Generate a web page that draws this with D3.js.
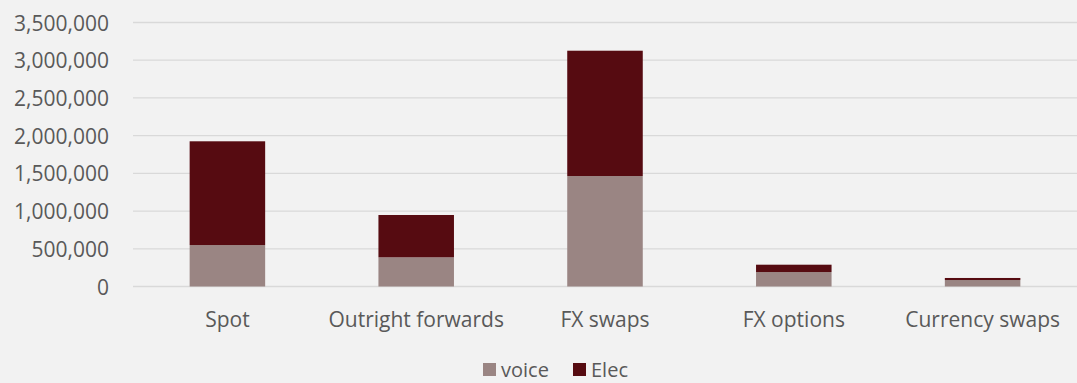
<!DOCTYPE html>
<html>
<head>
<meta charset="utf-8">
<script src="https://cdn.jsdelivr.net/npm/d3@7"></script>
<style>
  html, body { margin: 0; padding: 0; background: #f2f2f2; }
  svg text { font-family: "Open Sans", "Noto Sans", sans-serif; fill: #595959; }
</style>
</head>
<body>
<svg id="chart" width="1077" height="383"></svg>
<script>
// FX turnover by instrument, split by execution method
const categories = ["Spot", "Outright forwards", "FX swaps", "FX options", "Currency swaps"];
const voice = [550000, 387000, 1465000, 192000, 86000];
const elec = [1375000, 561000, 1661000, 97000, 27000];
const seriesNames = ["voice", "Elec"];
const seriesColors = ["#9a8583", "#560b11"];
const yTicks = [0, 500000, 1000000, 1500000, 2000000, 2500000, 3000000, 3500000];

const svg = d3.select("#chart");
const margin = { left: 133, right: 0, top: 22.5, bottom: 96.5 };
const W = 1077, H = 383;
const fontSize = 21;

const x = d3.scaleBand().domain(categories).range([margin.left, W - margin.right]).paddingInner(0.6).paddingOuter(0.3);
const y = d3.scaleLinear().domain([0, 3500000]).range([H - margin.bottom, margin.top]);

const rows = categories.map((c, i) => ({ cat: c, voice: voice[i], Elec: elec[i] }));
const stacked = d3.stack().keys(seriesNames)(rows);

// gridlines
svg.append("g").selectAll("line").data(yTicks).join("line")
  .attr("x1", margin.left).attr("x2", W - margin.right)
  .attr("y1", d => y(d)).attr("y2", d => y(d))
  .attr("stroke", "#d9d9d9").attr("stroke-width", 1.3);

// y axis labels
const yAxis = d3.axisLeft(y).tickValues(yTicks).tickFormat(d3.format(",")).tickSize(0).tickPadding(0);
svg.append("g").attr("transform", `translate(${109},0)`).call(yAxis)
  .call(g => g.select(".domain").remove())
  .selectAll("text").attr("font-size", fontSize).attr("dy", "0.36em");

// stacked bars
svg.append("g").selectAll("g").data(stacked).join("g")
  .attr("fill", (d, i) => seriesColors[i])
  .selectAll("rect").data(d => d).join("rect")
  .attr("x", d => x(d.data.cat))
  .attr("width", x.bandwidth())
  .attr("y", d => y(d[1]))
  .attr("height", d => y(d[0]) - y(d[1]));

// category labels
const xAxis = d3.axisBottom(x).tickSize(0).tickPadding(0);
svg.append("g").attr("transform", `translate(0,${y(0) + 40})`).call(xAxis)
  .call(g => g.select(".domain").remove())
  .selectAll("text").attr("font-size", fontSize).attr("dy", 0);

// legend
const legendItems = [
  { name: seriesNames[0], color: seriesColors[0], x: 483 },
  { name: seriesNames[1], color: seriesColors[1], x: 573 }
];
const lg = svg.append("g").selectAll("g").data(legendItems).join("g")
  .attr("transform", d => `translate(${d.x},0)`);
lg.append("rect").attr("x", 0).attr("y", 363).attr("width", 13).attr("height", 13).attr("fill", d => d.color);
lg.append("text").attr("x", 18).attr("y", 377).attr("font-size", 20).text(d => d.name);
</script>
</body>
</html>
